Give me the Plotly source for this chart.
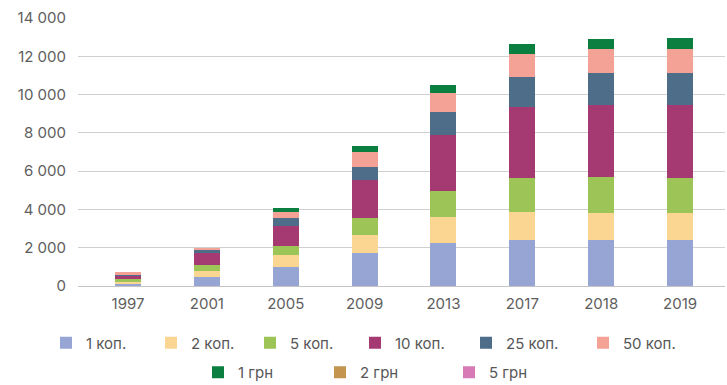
import plotly.graph_objects as go

# Coins in circulation by denomination (million pieces)
years = ["1997", "2001", "2005", "2009", "2013", "2017", "2018", "2019"]

kop_1 = [150, 450, 990, 1700, 2260, 2400, 2380, 2390]
kop_2 = [100, 350, 610, 990, 1360, 1450, 1450, 1420]
kop_5 = [100, 280, 470, 860, 1360, 1770, 1860, 1850]
kop_10 = [180, 620, 1040, 1990, 2900, 3730, 3760, 3790]
kop_25 = [80, 160, 440, 690, 1190, 1580, 1700, 1700]
kop_50 = [100, 120, 310, 770, 990, 1170, 1230, 1230]
uah_1 = [0, 0, 210, 330, 440, 520, 520, 600]
uah_2 = [0, 0, 0, 0, 0, 0, 0, 0]
uah_5 = [0, 0, 0, 0, 0, 0, 0, 0]

y_ticks = [0, 2000, 4000, 6000, 8000, 10000, 12000, 14000]
y_tick_text = ["0", "2 000", "4 000", "6 000", "8 000", "10 000", "12 000", "14 000"]

series = [
    ("1 коп.", kop_1, "#97a5d5", "legend", 60),
    ("2 коп.", kop_2, "#fad692", "legend", 54),
    ("5 коп.", kop_5, "#9cc456", "legend", 60),
    ("10 коп.", kop_10, "#a53a72", "legend", 66),
    ("25 коп.", kop_25, "#4d6d89", "legend", 72),
    ("50 коп.", kop_50, "#f4a196", "legend", 60),
    ("1 грн", uah_1, "#0b7f3f", "legend2", 77),
    ("2 грн", uah_2, "#c4954f", "legend2", 84),
    ("5 грн", uah_5, "#d77ab5", "legend2", 44),
]

FONT = "Inter"
TEXT = "#5e5e5e"

fig = go.Figure()
for name, vals, color, leg, lw in series:
    fig.add_trace(go.Bar(
        x=years, y=vals, name=name,
        marker=dict(color=color, line=dict(width=0)),
        legend=leg, legendwidth=lw,
    ))

fig.update_layout(
    width=727, height=385,
    margin=dict(l=78, r=2, t=18, b=99),
    barmode="stack", bargap=0.67,
    plot_bgcolor="white", paper_bgcolor="white",
    font=dict(family=FONT, size=15, color=TEXT),
    showlegend=True,
    legend=dict(
        orientation="h", xref="container", yref="container",
        x=46 / 727, xanchor="left", y=1 - 343 / 385, yanchor="middle",
        font=dict(family=FONT, size=15, color="#575757"),
        traceorder="normal", bgcolor="rgba(0,0,0,0)",
    ),
    legend2=dict(
        orientation="h", xref="container", yref="container",
        x=198 / 727, xanchor="left", y=1 - 372.5 / 385, yanchor="middle",
        font=dict(family=FONT, size=15, color="#575757"),
        traceorder="normal", bgcolor="rgba(0,0,0,0)",
    ),
)

fig.update_xaxes(
    type="category", range=[-0.634, 7.57],
    showgrid=False, showline=False, ticks="",
    tickfont=dict(family=FONT, size=15, color=TEXT),
    ticklabelstandoff=7,
)
fig.update_yaxes(
    range=[0, 14000], tickvals=y_ticks, ticktext=y_tick_text,
    showgrid=True, gridcolor="#d0d0d0", gridwidth=1.3,
    zeroline=True, zerolinecolor="#c4c4c4", zerolinewidth=1.3,
    showline=False, ticks="",
    tickfont=dict(family=FONT, size=15, color=TEXT),
    ticklabelstandoff=11,
)

fig.write_html("out.html")
